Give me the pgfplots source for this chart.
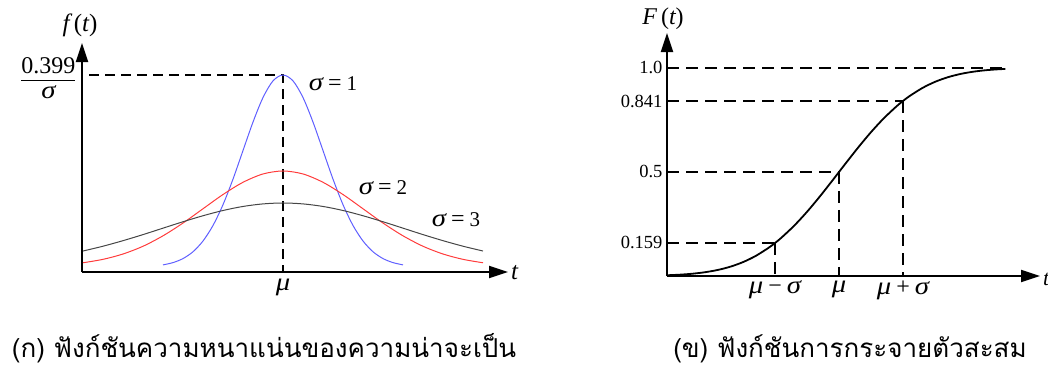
\documentclass[border=0pt]{standalone}
\usepackage{fontspec}
\setmainfont{Liberation Serif}
\newfontfamily\gkfont[FakeStretch=1.15]{Liberation Serif}
\newfontfamily\thaifont[Script=Thai]{Loma}
\usepackage{pgfplots}
\pgfplotsset{compat=1.18}
\usetikzlibrary{arrows.meta}

\definecolor{sigA}{RGB}{95,95,255}
\definecolor{sigB}{RGB}{255,60,60}
\definecolor{sigC}{RGB}{70,70,70}

% Greek symbols: wide italic, slightly larger than the surrounding text
\newcommand{\gk}[1]{{\gkfont\fontsize{25}{25}\selectfont\itshape #1}}
% binary operators between symbols
\newcommand{\op}[1]{\hspace{5pt}{\fontsize{24}{24}\selectfont #1}\hspace{5pt}}

\pgfplotsset{
  sketch/.style={
    axis lines=left,
    scale only axis,
    clip=false,
    axis line style={line width=1.9pt, -{Triangle[length=19pt,width=12pt]}},
    major tick length=0pt,
    tick style={draw=none},
    tick label style={font=\fontsize{18.5}{18.5}\selectfont},
  },
  guide/.style={black, line width=1.9pt, dash pattern=on 12pt off 7pt},
}

\begin{document}
\begin{tikzpicture}
\useasboundingbox (0pt,0pt) rectangle (1048pt,-369pt);

% ---------- (a) probability density ----------
\begin{axis}[sketch,
  at={(82pt,-272pt)}, anchor=south west,
  width=426pt, height=229pt,
  xmin=-5.025, xmax=5.625, ymin=-0.0104, ymax=0.4654,
  xtick={0}, xticklabels={\gk{μ}},
  xticklabel style={yshift=-3pt},
  ytick={0.3989},
  yticklabels={{\begin{tabular}{@{}c@{}}0.399\\[-1pt]\hline\gk{σ}\end{tabular}}},
  yticklabel style={font=\fontsize{24}{26}\selectfont, yshift=-6pt, xshift=-3pt},
]
\addplot[guide, line width=1.6pt, dash pattern=on 10pt off 6pt]
  coordinates {(-4.85,0.3989) (0,0.3989) (0,-0.0104)};

% sigma = 1
\addplot[sigA, line width=1pt, smooth] coordinates {
 (-3,0.0044) (-2.75,0.0091) (-2.5,0.0175) (-2.25,0.0317) (-2,0.0540)
 (-1.75,0.0863) (-1.5,0.1295) (-1.25,0.1826) (-1,0.2420) (-0.75,0.3011)
 (-0.5,0.3521) (-0.25,0.3867) (0,0.3989) (0.25,0.3867) (0.5,0.3521)
 (0.75,0.3011) (1,0.2420) (1.25,0.1826) (1.5,0.1295) (1.75,0.0863)
 (2,0.0540) (2.25,0.0317) (2.5,0.0175) (2.75,0.0091) (3,0.0044)};
% sigma = 2
\addplot[sigB, line width=1pt, smooth] coordinates {
 (-5,0.0088) (-4.5,0.0159) (-4,0.0270) (-3.5,0.0431) (-3,0.0648)
 (-2.5,0.0913) (-2,0.1210) (-1.5,0.1506) (-1,0.1760) (-0.5,0.1933)
 (0,0.1995) (0.5,0.1933) (1,0.1760) (1.5,0.1506) (2,0.1210)
 (2.5,0.0913) (3,0.0648) (3.5,0.0431) (4,0.0270) (4.5,0.0159) (5,0.0088)};
% sigma = 3
\addplot[sigC, line width=1pt, smooth] coordinates {
 (-5,0.0332) (-4.5,0.0432) (-4,0.0547) (-3.5,0.0673) (-3,0.0807)
 (-2.5,0.0940) (-2,0.1065) (-1.5,0.1174) (-1,0.1258) (-0.5,0.1311)
 (0,0.1330) (0.5,0.1311) (1,0.1258) (1.5,0.1174) (2,0.1065)
 (2.5,0.0940) (3,0.0807) (3.5,0.0673) (4,0.0547) (4.5,0.0432) (5,0.0332)};
\end{axis}

\begin{scope}[font=\fontsize{21}{21}\selectfont]
\node at (80pt,-25pt) {\fontsize{25}{25}\selectfont\itshape f\,\upshape(\itshape t\upshape)};
\node at (333pt,-84pt) {\gk{σ}\op{=}1};
\node at (383pt,-188pt) {\gk{σ}\op{=}2};
\node at (456pt,-220pt) {\gk{σ}\op{=}3};
\node[anchor=west, inner sep=0pt] at (511pt,-273pt) {\fontsize{25}{25}\selectfont\itshape t};
\end{scope}

% ---------- (b) cumulative distribution ----------
\begin{axis}[sketch,
  at={(667pt,-276pt)}, anchor=south west,
  width=373pt, height=243pt,
  xmin=-2.6875, xmax=3.140625, ymin=0, ymax=1.168,
  xtick={-1,0,1},
  xticklabels={{\gk{μ}\op{−}\gk{σ}}, {\gk{μ}}, {\gk{μ}\op{+}\gk{σ}}},
  xticklabel style={yshift=-1pt},
  ytick={0.159,0.5,0.841,1.0},
  yticklabels={0.159,0.5,0.841,1.0},
  yticklabel style={xshift=-1pt},
]
\addplot[guide] coordinates {(-2.6875,0.159) (-1,0.159)};
\addplot[guide] coordinates {(-1,0.159) (-1,0)};
\addplot[guide] coordinates {(-2.6875,0.5) (0,0.5)};
\addplot[guide] coordinates {(0,0.5) (0,0)};
\addplot[guide] coordinates {(-2.6875,0.841) (1,0.841)};
\addplot[guide] coordinates {(1,0.841) (1,0)};
\addplot[guide] coordinates {(-2.6875,1.0) (2.6,1.0)};

\addplot[black, line width=1.8pt, smooth] coordinates {
 (-2.68,0.0037) (-2.5,0.0062) (-2.3,0.0107) (-2.1,0.0179) (-1.9,0.0287)
 (-1.7,0.0446) (-1.5,0.0668) (-1.3,0.0968) (-1.1,0.1357) (-1,0.1587)
 (-0.9,0.1841) (-0.7,0.2420) (-0.5,0.3085) (-0.3,0.3821) (-0.1,0.4602)
 (0,0.5) (0.1,0.5398) (0.3,0.6179) (0.5,0.6915) (0.7,0.7580)
 (0.9,0.8159) (1,0.8413) (1.1,0.8643) (1.3,0.9032) (1.5,0.9332)
 (1.7,0.9554) (1.9,0.9713) (2.1,0.9821) (2.3,0.9893) (2.5,0.9938)
 (2.6,0.9953)};
\end{axis}

\node at (663pt,-19pt) {\fontsize{24}{24}\selectfont\itshape F\,\upshape(\itshape t\upshape)};
\node[anchor=west, inner sep=0pt] at (1043pt,-279pt) {\fontsize{22}{22}\selectfont\itshape t};

% ---------- captions ----------
\node[anchor=base, font=\thaifont\fontsize{26}{30}\selectfont] at (264pt,-357pt)
  {(ก) ฟังก์ชันความหนาแน่นของความน่าจะเป็น};
\node[anchor=base, font=\thaifont\fontsize{26}{30}\selectfont] at (850pt,-357pt)
  {(ข) ฟังก์ชันการกระจายตัวสะสม};
\end{tikzpicture}
\end{document}
